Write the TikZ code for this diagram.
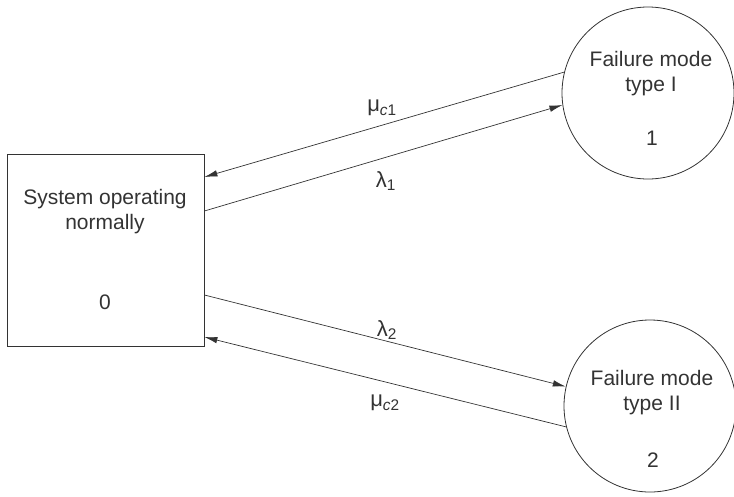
\documentclass[tikz,border=0pt]{standalone}
\usepackage{fontspec}
\setmainfont{Liberation Sans}
\usetikzlibrary{arrows.meta}
\definecolor{ink}{HTML}{333333}
\tikzset{
  statebox/.style={draw=ink, line width=0.8pt, minimum width=197pt, minimum height=192pt, inner sep=0pt},
  statecirc/.style={draw=ink, line width=0.8pt, circle, minimum size=172pt, inner sep=0pt},
  txt/.style={text=ink, font=\fontsize{21}{25}\selectfont, align=center, inner sep=0pt},
  lbl/.style={text=ink, font=\fontsize{22}{26}\selectfont, inner sep=0pt},
  conn/.style={draw=ink, line width=0.7pt, -{Latex[length=13pt,width=6.5pt]}}
}
\begin{document}
\begin{tikzpicture}[x=1pt,y=-1pt]
\useasboundingbox (0,0) rectangle (734,496);
\node[statebox] (box) at (105.5,250) {};
\node[statecirc] (c1) at (648,93) {};
\node[statecirc] (c2) at (650,406) {};
\node[txt] (t0) at (105,212) {System operating\\normally};
\node[txt] (n0) at (105,302) {0};
\node[txt] (t1) at (651,74) {Failure mode\\type I};
\node[txt] (n1) at (652,138) {1};
\node[txt] (t2) at (652,393) {Failure mode\\type II};
\node[txt] (n2) at (653,460) {2};
\draw[conn] (c1.166.3) -- ([yshift=73pt]box.east);
\draw[conn] ([yshift=39pt]box.east) -- (c1.188.1);
\draw[conn] ([yshift=-45pt]box.east) -- (c2.167.3);
\draw[conn] (c2.194.2) -- ([yshift=-87pt]box.east);
\node[lbl] (mu1) at (382,108) {μ\textsubscript{\textit{c}1}};
\node[lbl] (la1) at (386,181) {λ\textsubscript{1}};
\node[lbl] (la2) at (387,330) {λ\textsubscript{2}};
\node[lbl] (mu2) at (385,403) {μ\textsubscript{\textit{c}2}};
\end{tikzpicture}
\end{document}
